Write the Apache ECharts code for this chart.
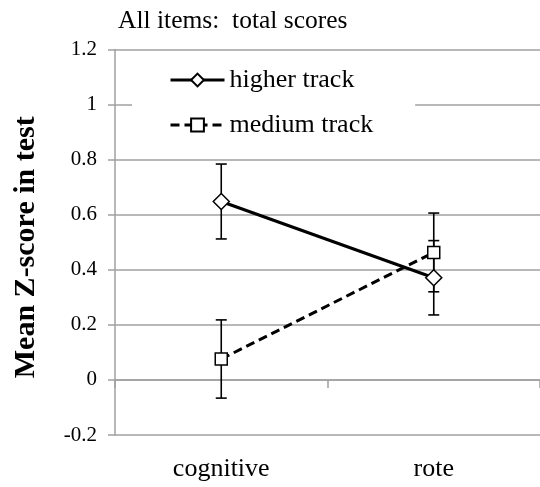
<!DOCTYPE html>
<html>
<head>
<meta charset="utf-8">
<script src="https://cdn.jsdelivr.net/npm/echarts@6/dist/echarts.min.js"></script>
<style>
html,body{margin:0;padding:0;background:#fff;}
#chart{width:540px;height:487px;}
</style>
</head>
<body>
<div id="chart"></div>
<script>
const titleText = 'All items:  total scores';
const yAxisName = 'Mean Z-score in test';
const categories = ['cognitive', 'rote'];
const seriesNames = ['higher track', 'medium track'];
const higherMean = [0.648, 0.371];
const higherErr = [0.136, 0.135];
const mediumMean = [0.076, 0.463];
const mediumErr = [0.142, 0.143];

const FONT = '"Liberation Serif", "Times New Roman", serif';
const GRID_COLOR = '#a0a0a0';

function errData(mean, err) {
  return mean.map((v, i) => [i, v - err[i], v + err[i]]);
}
function errRender(params, api) {
  const x = api.value(0);
  const lo = api.coord([x, api.value(1)]);
  const hi = api.coord([x, api.value(2)]);
  const w = 5.5;
  const style = { stroke: '#000', lineWidth: 1.6, fill: null };
  return {
    type: 'group',
    children: [
      { type: 'line', shape: { x1: hi[0], y1: hi[1], x2: lo[0], y2: lo[1] }, style: style },
      { type: 'line', shape: { x1: hi[0] - w, y1: hi[1], x2: hi[0] + w, y2: hi[1] }, style: style },
      { type: 'line', shape: { x1: lo[0] - w, y1: lo[1], x2: lo[0] + w, y2: lo[1] }, style: style }
    ]
  };
}

const chart = echarts.init(document.getElementById('chart'), null, { renderer: 'canvas' });
chart.setOption({
  backgroundColor: '#fff',
  animation: false,
  textStyle: { fontFamily: FONT, color: '#000' },
  title: {
    text: titleText,
    left: 118,
    top: 5,
    padding: 0,
    textStyle: { fontFamily: FONT, fontSize: 25.5, fontWeight: 'normal', color: '#000', lineHeight: 32 }
  },
  legend: {
    data: seriesNames,
    orient: 'vertical',
    left: 132,
    top: 57,
    padding: [8, 42, 8, 37],
    backgroundColor: '#fff',
    itemWidth: 54,
    itemHeight: 16,
    itemGap: 15,
    lineStyle: { width: 3 },
    textStyle: { fontFamily: FONT, fontSize: 26, color: '#000', lineHeight: 30 }
  },
  grid: { left: 115, right: -11, top: 49.5, bottom: 52, containLabel: false },
  xAxis: [
    {
      type: 'category',
      data: categories,
      boundaryGap: true,
      position: 'bottom',
      axisLine: { show: true, onZero: true, lineStyle: { color: GRID_COLOR, width: 1.5 } },
      axisTick: { show: true, length: 8, inside: false, lineStyle: { color: GRID_COLOR, width: 1.5 } },
      axisLabel: { show: false },
      splitLine: { show: false }
    },
    {
      type: 'category',
      data: categories,
      boundaryGap: true,
      position: 'bottom',
      axisLine: { show: false, onZero: false },
      axisTick: { show: false },
      axisLabel: { show: true, fontFamily: FONT, fontSize: 26, color: '#000', margin: 21 },
      splitLine: { show: false }
    }
  ],
  yAxis: {
    type: 'value',
    min: -0.2,
    max: 1.2,
    interval: 0.2,
    name: yAxisName,
    nameLocation: 'middle',
    nameRotate: 90,
    nameGap: 74,
    nameTextStyle: { fontFamily: FONT, fontSize: 30, fontWeight: 'bold', color: '#000', padding: [0, 10, 0, 0] },
    axisLine: { show: true, lineStyle: { color: GRID_COLOR, width: 1.5 } },
    axisTick: { show: true, length: 7, inside: false, lineStyle: { color: GRID_COLOR, width: 1.5 } },
    axisLabel: {
      fontFamily: FONT, fontSize: 21, color: '#000', margin: 18,
      formatter: function (v) { return String(Math.round(v * 10) / 10); }
    },
    splitLine: { show: true, lineStyle: { color: GRID_COLOR, width: 1.5 } }
  },
  series: [
    {
      type: 'custom',
      name: 'err-higher',
      xAxisIndex: 0,
      renderItem: errRender,
      encode: { x: 0, y: [1, 2] },
      data: errData(higherMean, higherErr),
      z: 1,
      silent: true
    },
    {
      type: 'custom',
      name: 'err-medium',
      xAxisIndex: 0,
      renderItem: errRender,
      encode: { x: 0, y: [1, 2] },
      data: errData(mediumMean, mediumErr),
      z: 1,
      silent: true
    },
    {
      type: 'line',
      name: seriesNames[0],
      xAxisIndex: 0,
      data: higherMean,
      symbol: 'diamond',
      symbolSize: 16,
      showAllSymbol: true,
      lineStyle: { color: '#000', width: 3, type: 'solid' },
      itemStyle: { color: '#fff', borderColor: '#000', borderWidth: 1.5 },
      z: 3
    },
    {
      type: 'line',
      name: seriesNames[1],
      xAxisIndex: 0,
      data: mediumMean,
      symbol: 'rect',
      symbolSize: 12,
      showAllSymbol: true,
      lineStyle: { color: '#000', width: 3, type: [9, 5] },
      itemStyle: { color: '#fff', borderColor: '#000', borderWidth: 1.5 },
      z: 3
    }
  ]
});
</script>
</body>
</html>
